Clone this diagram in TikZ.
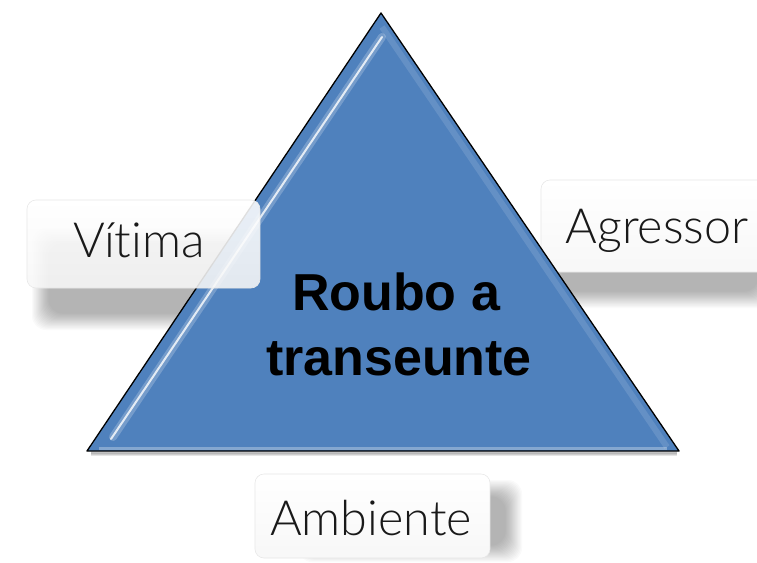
\documentclass[tikz,border=0pt]{standalone}
\usepackage{fontspec}
\setmainfont{Liberation Sans}
\newfontfamily\lightfont{Lato Light}[Ligatures=NoCommon]
\usetikzlibrary{calc}
\definecolor{triblue}{RGB}{79,129,189}
\tikzset{
  lbl/.style={rounded corners=9pt, draw=black!9, line width=0.6pt, top color=white, bottom color=black!3},
  lbltext/.style={font=\lightfont\fontsize{48.5}{52}\selectfont, text=black!90, anchor=base},
  titletext/.style={font=\bfseries\fontsize{52}{60}\selectfont, text=black, anchor=base},
}
\newcommand\softshadow[4]{%
  \foreach \k in {0,...,15} {
    \fill[black, opacity=0.02, rounded corners=14pt]
      ({#1+\k*1.1},{#2+\k*1.1}) rectangle ({#3-\k*1.1},{#4-\k*1.1});
  }%
}
\begin{document}
\begin{tikzpicture}[x=1pt,y=-1pt]
\useasboundingbox (0,0) rectangle (757,562);
\fill[white] (0,0) rectangle (757,562);

% shadows of labels
\softshadow{32}{228}{264}{330}
\softshadow{545}{215}{775}{308}
\softshadow{298}{480}{522}{562}

% Agressor box (below triangle)
\node[lbl, minimum width=240pt, minimum height=92pt, inner sep=0pt] (agr) at (661,226) {};

% triangle
\coordinate (apex) at (381,13);
\coordinate (bl) at (87,451);
\coordinate (br) at (679,451);
% shadow below base
\foreach \k in {1,...,6} {
  \draw[black, opacity=0.05, line width=\k pt] ($(bl)+(4,2)$) -- ($(br)+(-2,2)$);
}
\fill[triblue] (apex) -- (bl) -- (br) -- cycle;
% bevel highlights
\draw[white, opacity=0.22, line width=8pt, line cap=round] ($(apex)+(1,24)$) -- ($(bl)+(26,-14)$);
\draw[white, opacity=0.8, line width=2pt, line cap=round] ($(apex)+(1,24)$) -- ($(bl)+(24,-12)$);
\draw[white, opacity=0.3, line width=3pt] ($(bl)+(12,-3)$) -- ($(br)+(-12,-3)$);
\draw[white, opacity=0.12, line width=6pt] ($(apex)+(1,14)$) -- ($(br)+(-12,-4)$);
\draw[black, line width=1.3pt, line join=round] (apex) -- (bl) -- (br) -- cycle;

% Vitima box (over triangle, translucent)
\node[lbl, fill opacity=0.88, minimum width=233pt, minimum height=88pt, inner sep=0pt] (vit) at (143.5,244) {};

% Ambiente box
\node[lbl, minimum width=235pt, minimum height=84pt, inner sep=0pt] (amb) at (372.5,516) {};

% texts
\node[lbltext] (tvit) at (139,257) {Vítima};
\node[lbltext] (tagr) at (657,243) {Agressor};
\node[lbltext] (tamb) at (371,535) {Ambiente};
\node[titletext] (t1) at (396,310) {Roubo a};
\node[titletext] (t2) at (399,375) {transeunte};
\end{tikzpicture}
\end{document}
